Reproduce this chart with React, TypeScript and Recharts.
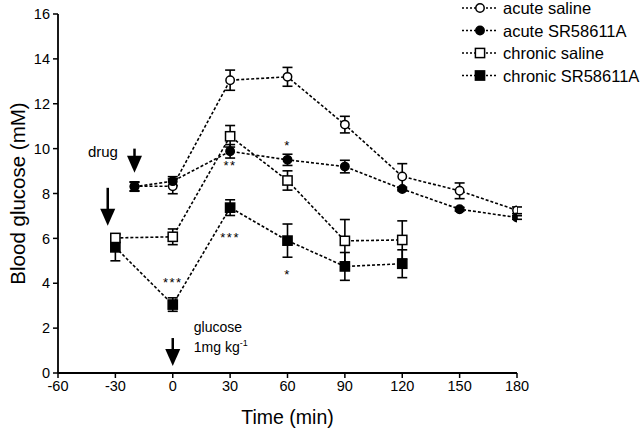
import React from "react";
import { LineChart, Line, XAxis, YAxis, ErrorBar, ReferenceDot, Label } from "recharts";

const FONT = "'Liberation Sans', Arial, sans-serif";

const timeTicks = [-60, -30, 0, 30, 60, 90, 120, 150, 180];
const glucoseTicks = [0, 2, 4, 6, 8, 10, 12, 14, 16];

// acute groups: drug at -20 min
const acuteTimes = [-20, 0, 30, 60, 90, 120, 150, 180];
const acuteSaline = [8.32, 8.32, 13.05, 13.2, 11.07, 8.76, 8.12, 7.25];
const acuteSalineErr = [0.2, 0.33, 0.45, 0.42, 0.37, 0.57, 0.35, 0.15];
const acuteSR = [8.3, 8.55, 9.88, 9.5, 9.2, 8.2, 7.3, 6.93];
const acuteSRErr = [0.2, 0.2, 0.3, 0.25, 0.28, 0.08, 0.08, 0.08];

// chronic groups: start at -30 min
const chronicTimes = [-30, 0, 30, 60, 90, 120];
const chronicSaline = [6.02, 6.07, 10.55, 8.58, 5.89, 5.93];
const chronicSalineErr = [0.15, 0.35, 0.48, 0.43, 0.95, 0.85];
const chronicSR = [5.6, 3.05, 7.37, 5.9, 4.75, 4.87];
const chronicSRErr = [0.6, 0.3, 0.35, 0.74, 0.62, 0.62];

const seriesNames = ["acute saline", "acute SR58611A", "chronic saline", "chronic SR58611A"];

// annotations in data units
const arrowNotes = [
  { x: -20, y: 8.93, len: 24 },
  { x: -34, y: 6.56, len: 38 },
  { x: 0, y: 0.31, len: 28 },
];
const starNotes = [
  { x: 0, y: 4.15, text: "***" },
  { x: 30, y: 9.37, text: "**" },
  { x: 30, y: 6.16, text: "***" },
  { x: 60, y: 10.27, text: "*" },
  { x: 60, y: 4.48, text: "*" },
];

const toPoints = (xs: number[], ys: number[], es: number[]) =>
  xs.map((x, i) => ({ x, y: ys[i], e: es[i] }));

type Shape = "openCircle" | "filledCircle" | "openSquare" | "filledSquare";

const SERIES: { name: string; shape: Shape; data: { x: number; y: number; e: number }[] }[] = [
  { name: seriesNames[0], shape: "openCircle", data: toPoints(acuteTimes, acuteSaline, acuteSalineErr) },
  { name: seriesNames[1], shape: "filledCircle", data: toPoints(acuteTimes, acuteSR, acuteSRErr) },
  { name: seriesNames[2], shape: "openSquare", data: toPoints(chronicTimes, chronicSaline, chronicSalineErr) },
  { name: seriesNames[3], shape: "filledSquare", data: toPoints(chronicTimes, chronicSR, chronicSRErr) },
];

function marker(shape: Shape, cx: number, cy: number, key?: string) {
  const fill = shape.startsWith("filled") ? "#000" : "#fff";
  if (shape.endsWith("Circle")) {
    return <circle key={key} cx={cx} cy={cy} r={4.2} fill={fill} stroke="#000" strokeWidth={1.5} />;
  }
  return <rect key={key} x={cx - 4.6} y={cy - 4.6} width={9.2} height={9.2} fill={fill} stroke="#000" strokeWidth={1.5} />;
}

const dotFor = (shape: Shape) => (p: any) => {
  if (p.cx == null || p.cy == null) return <g key={`${shape}-${p.index}`} />;
  return marker(shape, p.cx, p.cy, `${shape}-${p.index}`);
};

const arrowShape = (len: number) => (p: any) => {
  const { cx, cy } = p;
  const head = 17;
  const half = 7.5;
  return (
    <g>
      <line x1={cx} x2={cx} y1={cy - len} y2={cy - head + 1} stroke="#000" strokeWidth={2.5} />
      <path d={`M${cx - half},${cy - head} L${cx + half},${cy - head} L${cx},${cy} Z`} fill="#000" />
    </g>
  );
};

const starShape = (text: string) => (p: any) => (
  <text x={p.cx} y={p.cy + 7} textAnchor="middle" fontSize={13} letterSpacing={1.5} fontFamily={FONT} fill="#000">
    {text}
  </text>
);

const drugShape = (p: any) => (
  <text x={p.cx} y={p.cy} textAnchor="middle" dominantBaseline="central" fontSize={15} fontFamily={FONT} fill="#000">
    drug
  </text>
);

const glucoseShape = (p: any) => (
  <text x={p.cx} y={p.cy} fontSize={14} fontFamily={FONT} fill="#000">
    <tspan x={p.cx}>glucose</tspan>
    <tspan x={p.cx} dy={20}>1mg kg</tspan>
    <tspan dy={-6} fontSize={9}>-1</tspan>
  </text>
);

const LegendBox = () => (
  <svg width={178} height={90} style={{ position: "absolute", left: 462, top: 0 }}>
    {SERIES.map((s, i) => {
      const cy = 8 + i * 22.5;
      return (
        <g key={s.name}>
          <line x1={0} x2={35} y1={cy} y2={cy} stroke="#000" strokeWidth={1.5} strokeDasharray="2 2" />
          {marker(s.shape, 18, cy)}
          <text x={41} y={cy} dominantBaseline="central" fontSize={16.5} fontFamily={FONT} fill="#000">
            {s.name}
          </text>
        </g>
      );
    })}
  </svg>
);

export default function App() {
  const tick = { fontSize: 14.5, fill: "#000", fontFamily: FONT };
  return (
    <div style={{ position: "absolute", left: 0, top: 0, width: 640, height: 431, background: "#fff", fontFamily: FONT }}>
      <LineChart width={640} height={431} margin={{ top: 14, right: 123, bottom: 0, left: 0 }}>
        <XAxis
          type="number"
          dataKey="x"
          domain={[-60, 180]}
          ticks={timeTicks}
          allowDataOverflow
          height={58}
          tick={tick}
          tickSize={5}
          tickMargin={3}
          axisLine={{ stroke: "#000", strokeWidth: 1.8 }}
          tickLine={{ stroke: "#000", strokeWidth: 1.5 }}
        >
          <Label value="Time (min)" position="insideBottom" offset={7} fontSize={19.5} fill="#000" fontFamily={FONT} />
        </XAxis>
        <YAxis
          type="number"
          domain={[0, 16]}
          ticks={glucoseTicks}
          allowDataOverflow
          width={58}
          tick={tick}
          tickSize={5}
          tickMargin={3}
          axisLine={{ stroke: "#000", strokeWidth: 1.8 }}
          tickLine={{ stroke: "#000", strokeWidth: 1.5 }}
        >
          <Label
            value="Blood glucose (mM)"
            angle={-90}
            position="insideLeft"
            offset={18}
            fontSize={20.5}
            fill="#000"
            fontFamily={FONT}
            style={{ textAnchor: "middle" }}
          />
        </YAxis>
        {SERIES.map((s) => (
          <Line
            key={s.name}
            name={s.name}
            data={s.data}
            dataKey="y"
            stroke="#000"
            strokeWidth={1.6}
            strokeDasharray="3 2"
            dot={dotFor(s.shape)}
            activeDot={false}
            isAnimationActive={false}
          >
            <ErrorBar dataKey="e" direction="y" width={5} stroke="#000" strokeWidth={1.6} />
          </Line>
        ))}
        {arrowNotes.map((a, i) => (
          <ReferenceDot key={`arrow-${i}`} x={a.x} y={a.y} r={0} ifOverflow="visible" shape={arrowShape(a.len)} />
        ))}
        {starNotes.map((s, i) => (
          <ReferenceDot key={`star-${i}`} x={s.x} y={s.y} r={0} ifOverflow="visible" shape={starShape(s.text)} />
        ))}
        <ReferenceDot x={-36.5} y={9.85} r={0} ifOverflow="visible" shape={drugShape} />
        <ReferenceDot x={11} y={1.83} r={0} ifOverflow="visible" shape={glucoseShape} />
      </LineChart>
      <LegendBox />
    </div>
  );
}
